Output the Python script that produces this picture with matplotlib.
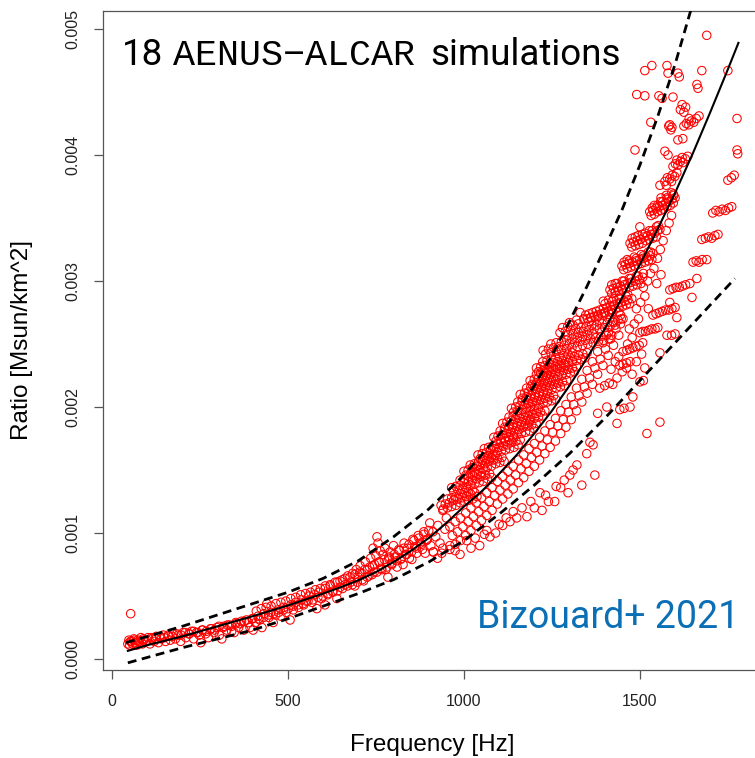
import numpy as np
import matplotlib
matplotlib.use("Agg")
import matplotlib.pyplot as plt
from matplotlib.ticker import FormatStrFormatter

# ratio values below are in units of 1e-3 Msun/km^2
# fitted relation (solid) and the two bounds (dashed)
fit_freq = [45, 100, 200, 300, 400, 500, 600, 650, 700, 750, 800, 850, 900, 950, 1000, 1050,
            1100, 1150, 1200, 1250, 1300, 1350, 1400, 1450, 1500, 1550, 1600, 1650, 1700, 1750, 1780]
fit_ratio = [0.065, 0.11, 0.18, 0.26, 0.34, 0.425, 0.52, 0.57, 0.625, 0.69, 0.77, 0.86, 0.96, 1.08,
             1.21, 1.33, 1.47, 1.62, 1.79, 1.97, 2.17, 2.39, 2.62, 2.87, 3.13, 3.41, 3.70, 4.01, 4.34,
             4.68, 4.89]
hi_freq = [40, 200, 300, 400, 500, 600, 700, 800, 900, 1000, 1100, 1150, 1200, 1250, 1300, 1350,
           1400, 1450, 1500, 1550, 1600, 1650]
hi_ratio = [0.13, 0.26, 0.35, 0.44, 0.53, 0.64, 0.78, 0.97, 1.19, 1.46, 1.78, 1.96, 2.17, 2.41,
            2.68, 2.96, 3.26, 3.57, 3.92, 4.30, 4.72, 5.20]
lo_freq = [45, 200, 300, 400, 500, 600, 700, 800, 900, 1000, 1100, 1200, 1300, 1400, 1500, 1600,
           1700, 1770]
lo_ratio = [-0.03, 0.09, 0.16, 0.23, 0.32, 0.42, 0.52, 0.63, 0.77, 0.94, 1.15, 1.38, 1.63, 1.91,
            2.21, 2.51, 2.81, 3.02]

# simulation points: (frequency [Hz], ratio)
low_pts = np.array([
    (45, .12), (48, .15), (50, .11), (53, .36), (55, .14), (58, .12), (62, .16), (66, .13),
    (70, .11), (74, .15), (78, .13), (82, .17), (86, .12), (90, .15), (96, .14), (102, .17),
    (108, .12), (114, .16), (120, .14), (126, .18), (132, .13), (140, .16), (146, .19), (152, .14),
    (160, .18), (166, .15), (174, .20), (180, .16), (188, .19), (195, .14), (202, .21), (210, .17),
    (218, .20), (226, .22), (232, .16), (240, .21), (248, .19), (252, .13), (258, .23), (266, .20),
    (274, .17), (282, .24), (290, .21), (298, .25), (305, .19), (312, .16), (318, .26), (326, .23),
    (334, .27), (340, .22), (347, .21), (352, .28), (360, .25), (368, .30), (375, .23), (382, .31),
    (392, .25), (398, .32), (401, .23), (408, .29), (415, .34), (420, .31), (426, .25), (432, .36),
    (440, .44), (446, .33), (452, .37), (458, .29), (465, .35), (472, .39), (480, .34), (488, .41),
    (495, .37), (506, .31), (508, .43), (515, .39), (522, .45), (530, .41), (538, .47), (545, .43),
    (552, .46), (560, .50), (568, .45), (575, .51), (582, .40), (588, .53), (595, .48), (605, .43),
    (606, .56), (614, .52), (620, .58), (628, .54), (639, .48), (640, .61), (648, .57), (655, .63),
    (662, .59), (670, .66), (678, .61), (684, .68), (690, .58), (694, .71), (700, .65), (705, .74),
    (710, .68), (715, .62), (720, .77), (725, .71), (730, .66), (735, .80), (740, .74), (742, .88),
    (745, .69), (750, .82), (753, .97), (756, .92), (758, .77), (762, .86), (765, .72), (770, .83),
    (775, .88), (778, .71), (784, .65), (786, .80), (790, .85), (795, .76), (800, .90), (805, .81),
    (810, .73), (815, .87), (820, .79), (827, .75), (830, .92), (835, .83), (840, .88), (845, .80),
    (852, .79), (855, .95), (860, .89), (866, .84), (870, .98), (876, .92), (882, .87), (886, 1.01),
    (890, .84), (896, .95), (903, 1.08), (906, .90), (912, 1.01), (913, .85), (920, .97), (926, 1.06),
    (932, .92), (937, .84), (940, 1.18), (946, 1.03), (950, 1.12),
    # second rows along the band
    (52, .14), (64, .15), (76, .14), (88, .16), (100, .15), (112, .17), (124, .16), (136, .18),
    (148, .17), (160, .19), (172, .18), (184, .20), (196, .19), (208, .21), (220, .20), (232, .22),
    (244, .21), (256, .23), (268, .22), (280, .24), (292, .23), (304, .26), (316, .25), (328, .27),
    (340, .26), (352, .29), (364, .28), (376, .30), (388, .29), (400, .32),
    (410, .38), (424, .40), (438, .41), (452, .42), (466, .44), (480, .45), (494, .46), (508, .48),
    (522, .49), (536, .51), (550, .52), (564, .53), (578, .55), (592, .56), (606, .58), (620, .59),
    (634, .61), (648, .62), (662, .64), (676, .65), (690, .67), (704, .69), (718, .71), (732, .73),
    (746, .75), (760, .77), (774, .79), (788, .81), (802, .83), (816, .86), (830, .88), (844, .91),
    (858, .94), (872, .96), (886, .99), (900, 1.02),
    (417, .32), (431, .33), (445, .35), (459, .36), (473, .37), (487, .39), (501, .40), (515, .42),
    (529, .43), (543, .44), (557, .46), (571, .47), (585, .49), (599, .50), (613, .51), (627, .53),
    (641, .54), (655, .56), (669, .58), (683, .59), (697, .61), (711, .63), (725, .65), (739, .67),
    (753, .69), (767, .71), (781, .73), (795, .75), (809, .78), (823, .80), (837, .83), (851, .85),
    (865, .88), (879, .91), (893, .94),
])

# upper branch: streaks of points above the fit, three rows per streak
upper_pts = np.array([
    (935, 1.22), (947, 1.23), (959, 1.24), (971, 1.26), (983, 1.27), (995, 1.28), (1007, 1.29),
    (1019, 1.31), (1031, 1.32),
    (941, 1.19), (953, 1.20), (965, 1.21), (977, 1.22), (989, 1.24), (1001, 1.25), (1013, 1.26),
    (1025, 1.27), (1037, 1.29),
    (953, 1.27), (965, 1.28), (977, 1.29), (989, 1.31), (1001, 1.32), (1013, 1.33), (1025, 1.34),
    (965, 1.36), (977, 1.37), (989, 1.38), (1001, 1.40), (1013, 1.41), (1025, 1.42), (1037, 1.43),
    (1049, 1.45), (1061, 1.46), (1073, 1.47),
    (971, 1.33), (983, 1.34), (995, 1.35), (1007, 1.36), (1019, 1.38), (1031, 1.39), (1043, 1.40),
    (1055, 1.41), (1067, 1.43), (1079, 1.44),
    (989, 1.42), (1001, 1.43), (1013, 1.45), (1025, 1.46), (1037, 1.47), (1049, 1.48), (1061, 1.50),
    (1000, 1.49), (1012, 1.50), (1024, 1.52), (1036, 1.53), (1048, 1.54), (1060, 1.55), (1072, 1.57),
    (1084, 1.58), (1096, 1.59), (1108, 1.60),
    (1006, 1.46), (1018, 1.47), (1030, 1.48), (1042, 1.50), (1054, 1.51), (1066, 1.52), (1078, 1.53),
    (1090, 1.55), (1102, 1.56), (1114, 1.57),
    (1018, 1.54), (1030, 1.55), (1042, 1.57), (1054, 1.58), (1066, 1.59), (1078, 1.60), (1090, 1.62),
    (1040, 1.62), (1052, 1.63), (1064, 1.64), (1076, 1.66), (1088, 1.67), (1100, 1.68), (1112, 1.69),
    (1124, 1.70), (1136, 1.72), (1148, 1.73), (1160, 1.74),
    (1046, 1.59), (1058, 1.60), (1070, 1.61), (1082, 1.62), (1094, 1.64), (1106, 1.65), (1118, 1.66),
    (1130, 1.67), (1142, 1.68), (1154, 1.70),
    (1058, 1.67), (1070, 1.68), (1082, 1.69), (1094, 1.71), (1106, 1.72), (1118, 1.73), (1130, 1.74),
    (1142, 1.76),
    (1085, 1.76), (1097, 1.77), (1109, 1.78), (1121, 1.79), (1133, 1.80), (1145, 1.81), (1157, 1.82),
    (1169, 1.84), (1181, 1.85), (1193, 1.86), (1205, 1.87),
    (1091, 1.73), (1103, 1.74), (1115, 1.75), (1127, 1.76), (1139, 1.77), (1151, 1.78), (1163, 1.79),
    (1175, 1.80), (1187, 1.81), (1199, 1.83),
    (1103, 1.81), (1115, 1.82), (1127, 1.83), (1139, 1.84), (1151, 1.85), (1163, 1.86), (1175, 1.87),
    (1187, 1.89),
    (1110, 1.87), (1122, 1.88), (1134, 1.89), (1146, 1.90), (1158, 1.91), (1170, 1.92), (1182, 1.93),
    (1194, 1.94), (1206, 1.95), (1218, 1.96), (1230, 1.97),
    (1116, 1.84), (1128, 1.85), (1140, 1.86), (1152, 1.87), (1164, 1.88), (1176, 1.89), (1188, 1.90),
    (1200, 1.91), (1212, 1.92), (1224, 1.93),
    (1128, 1.92), (1140, 1.93), (1152, 1.94), (1164, 1.95), (1176, 1.96), (1188, 1.97), (1200, 1.98),
    (1212, 1.99),
    (1135, 1.99), (1147, 2.00), (1159, 2.01), (1171, 2.02), (1183, 2.03), (1195, 2.04), (1207, 2.05),
    (1219, 2.06), (1231, 2.07), (1243, 2.08), (1255, 2.09),
    (1141, 1.96), (1153, 1.97), (1165, 1.98), (1177, 1.99), (1189, 2.00), (1201, 2.01), (1213, 2.02),
    (1225, 2.03), (1237, 2.04), (1249, 2.05), (1261, 2.06),
    (1153, 2.04), (1165, 2.05), (1177, 2.06), (1189, 2.07), (1201, 2.08), (1213, 2.09), (1225, 2.10),
    (1237, 2.11),
    (1160, 2.10), (1172, 2.11), (1184, 2.12), (1196, 2.13), (1208, 2.14), (1220, 2.15), (1232, 2.16),
    (1244, 2.17), (1256, 2.18), (1268, 2.19), (1280, 2.20), (1292, 2.21),
    (1166, 2.07), (1178, 2.08), (1190, 2.09), (1202, 2.10), (1214, 2.11), (1226, 2.12), (1238, 2.13),
    (1250, 2.14), (1262, 2.15), (1274, 2.16), (1286, 2.17),
    (1178, 2.15), (1190, 2.16), (1202, 2.17), (1214, 2.18), (1226, 2.19), (1238, 2.20), (1250, 2.21),
    (1262, 2.22),
    (1188, 2.21), (1200, 2.22), (1212, 2.23), (1224, 2.24), (1236, 2.25), (1248, 2.26), (1260, 2.27),
    (1272, 2.28), (1284, 2.29), (1296, 2.30), (1308, 2.31), (1320, 2.32),
    (1194, 2.18), (1206, 2.19), (1218, 2.20), (1230, 2.21), (1242, 2.22), (1254, 2.23), (1266, 2.24),
    (1278, 2.25), (1290, 2.26), (1302, 2.27), (1314, 2.28),
    (1206, 2.26), (1218, 2.27), (1230, 2.28), (1242, 2.29), (1254, 2.30), (1266, 2.31), (1278, 2.32),
    (1290, 2.33),
    (1206, 2.31), (1218, 2.32), (1230, 2.33), (1242, 2.34), (1254, 2.35), (1266, 2.36), (1278, 2.37),
    (1290, 2.38), (1302, 2.39), (1314, 2.40), (1326, 2.41), (1338, 2.42), (1350, 2.43),
    (1212, 2.28), (1224, 2.29), (1236, 2.30), (1248, 2.31), (1260, 2.32), (1272, 2.33), (1284, 2.34),
    (1296, 2.35), (1308, 2.36), (1320, 2.37), (1332, 2.38), (1344, 2.39),
    (1224, 2.36), (1236, 2.37), (1248, 2.38), (1260, 2.39), (1272, 2.40), (1284, 2.41), (1296, 2.42),
    (1308, 2.43),
    (1225, 2.45), (1240, 2.46), (1255, 2.47), (1270, 2.48), (1285, 2.49), (1300, 2.50), (1315, 2.51),
    (1330, 2.52), (1345, 2.53), (1360, 2.54), (1375, 2.55), (1390, 2.56), (1405, 2.57), (1420, 2.57),
    (1232, 2.42), (1247, 2.43), (1262, 2.44), (1277, 2.45), (1292, 2.46), (1307, 2.47), (1322, 2.48),
    (1337, 2.49), (1352, 2.50), (1367, 2.51), (1382, 2.52), (1397, 2.53), (1412, 2.54),
    (1247, 2.50), (1262, 2.51), (1277, 2.52), (1292, 2.53), (1307, 2.54), (1322, 2.55), (1337, 2.56),
    (1352, 2.57), (1367, 2.58),
    (1273, 2.59), (1288, 2.60), (1303, 2.61), (1318, 2.62), (1333, 2.63), (1348, 2.64), (1363, 2.65),
    (1378, 2.65), (1393, 2.66), (1408, 2.67), (1423, 2.68), (1438, 2.69), (1452, 2.70),
    (1295, 2.57), (1310, 2.58), (1325, 2.59), (1340, 2.60), (1355, 2.61), (1370, 2.62), (1385, 2.62),
    (1400, 2.63), (1415, 2.64), (1430, 2.65), (1445, 2.66),
    (1280, 2.63), (1295, 2.64), (1310, 2.65), (1325, 2.66), (1355, 2.68), (1385, 2.69), (1415, 2.71),
    (1445, 2.73), (1330, 2.75),
    (1300, 2.67), (1320, 2.69), (1340, 2.70), (1360, 2.71), (1380, 2.72), (1400, 2.74), (1420, 2.75),
    (1346, 2.73), (1356, 2.74), (1366, 2.75), (1376, 2.76), (1351, 2.70), (1361, 2.71), (1371, 2.72),
    (1381, 2.73),
    (1386, 2.77), (1396, 2.78), (1406, 2.79), (1416, 2.80), (1426, 2.81), (1436, 2.82), (1446, 2.83),
    (1456, 2.84), (1466, 2.85), (1477, 2.86),
    (1391, 2.74), (1401, 2.75), (1411, 2.76), (1421, 2.77), (1431, 2.78), (1441, 2.79), (1451, 2.80),
    (1461, 2.81), (1471, 2.82),
    (1401, 2.82), (1421, 2.84), (1441, 2.86), (1461, 2.88),
    (1396, 2.84), (1411, 2.85), (1426, 2.86), (1446, 2.88), (1466, 2.89),
    (1415, 2.93), (1425, 2.94), (1435, 2.95), (1445, 2.96), (1455, 2.97), (1465, 2.98), (1475, 2.99),
    (1487, 3.00), (1498, 3.01), (1508, 3.03),
    (1420, 2.90), (1430, 2.91), (1440, 2.92), (1450, 2.93), (1460, 2.94), (1470, 2.95), (1480, 2.96),
    (1492, 2.97), (1503, 2.98),
    (1430, 2.98), (1450, 3.00), (1470, 3.02), (1490, 3.04),
    (1420, 2.97), (1435, 2.98), (1455, 3.00), (1475, 3.02), (1495, 3.04), (1510, 3.06),
    (1449, 3.12), (1459, 3.13), (1469, 3.14), (1479, 3.15), (1489, 3.16), (1499, 3.17), (1509, 3.18),
    (1519, 3.19), (1529, 3.20), (1537, 3.22),
    (1454, 3.09), (1464, 3.10), (1474, 3.11), (1484, 3.12), (1494, 3.13), (1504, 3.14), (1514, 3.15),
    (1524, 3.16), (1534, 3.17),
    (1464, 3.17), (1484, 3.19), (1504, 3.21), (1524, 3.23),
    (1455, 3.15), (1470, 3.16), (1490, 3.18), (1510, 3.20), (1530, 3.23),
    (1472, 3.30), (1482, 3.31), (1492, 3.32), (1502, 3.33), (1512, 3.35), (1522, 3.36), (1532, 3.37),
    (1542, 3.38), (1550, 3.40), (1557, 3.41),
    (1477, 3.27), (1487, 3.28), (1497, 3.29), (1507, 3.30), (1517, 3.32), (1527, 3.33), (1537, 3.34),
    (1547, 3.35),
    (1487, 3.35), (1507, 3.37), (1527, 3.40), (1547, 3.43),
    (1478, 3.34), (1495, 3.36), (1515, 3.38), (1535, 3.40), (1552, 3.44),
    (1528, 3.55), (1537, 3.56), (1546, 3.58), (1555, 3.59), (1564, 3.60), (1573, 3.62), (1582, 3.63),
    (1591, 3.65), (1600, 3.66),
    (1532, 3.52), (1541, 3.53), (1550, 3.55), (1559, 3.56), (1568, 3.57), (1577, 3.59), (1586, 3.60),
    (1595, 3.62),
    (1541, 3.60), (1559, 3.63), (1577, 3.66), (1595, 3.69),
    (1535, 3.58), (1550, 3.60), (1565, 3.63), (1580, 3.65), (1596, 3.68),
    (1571, 3.79), (1578, 3.82), (1585, 3.81), (1592, 3.84), (1599, 3.83), (1605, 3.86), (1575, 3.76),
    (1590, 3.79),
    (1594, 3.91), (1601, 3.93), (1608, 3.92), (1615, 3.95), (1622, 3.94), (1629, 3.97), (1636, 3.99),
    (1605, 3.96), (1620, 3.98),
    (1625, 4.23), (1632, 4.25), (1639, 4.24), (1646, 4.27), (1653, 4.26), (1660, 4.29), (1668, 4.31),
    (1640, 4.29),
])

# points just below the fit, three rows plus stragglers
mid_pts = np.array([
    (960, 1.05), (975, 1.09), (990, 1.12), (1005, 1.16), (1020, 1.20), (1035, 1.24), (1050, 1.28),
    (1065, 1.32), (1080, 1.36), (1095, 1.41), (1110, 1.45), (1125, 1.49), (1140, 1.53), (1155, 1.58),
    (1170, 1.62), (1185, 1.67), (1200, 1.71), (1215, 1.76), (1230, 1.81), (1245, 1.86), (1260, 1.91),
    (1275, 1.97), (1290, 2.02), (1305, 2.08), (1320, 2.15), (1335, 2.22), (1350, 2.29), (1365, 2.36),
    (1380, 2.44), (1395, 2.51), (1410, 2.59), (1425, 2.67), (1440, 2.75),
    (967, .98), (982, 1.01), (997, 1.05), (1012, 1.09), (1027, 1.13), (1042, 1.17), (1057, 1.21),
    (1072, 1.25), (1087, 1.30), (1102, 1.34), (1117, 1.38), (1132, 1.42), (1147, 1.46), (1162, 1.51),
    (1177, 1.55), (1192, 1.60), (1207, 1.64), (1222, 1.69), (1237, 1.74), (1252, 1.80), (1267, 1.85),
    (1282, 1.90), (1297, 1.96), (1312, 2.02), (1327, 2.09), (1342, 2.16), (1357, 2.23), (1372, 2.31),
    (1387, 2.38), (1402, 2.46), (1417, 2.54), (1432, 2.62), (1447, 2.70),
    (960, .87), (975, .91), (990, .94), (1005, .98), (1020, 1.02), (1035, 1.06), (1050, 1.10),
    (1065, 1.14), (1080, 1.18), (1095, 1.23), (1110, 1.27), (1125, 1.31), (1140, 1.35), (1155, 1.40),
    (1170, 1.44), (1185, 1.49), (1200, 1.53), (1215, 1.58), (1230, 1.63), (1245, 1.68), (1260, 1.73),
    (1275, 1.79), (1290, 1.84), (1305, 1.90), (1320, 1.97), (1335, 2.04), (1350, 2.11), (1365, 2.18),
    (1380, 2.26), (1395, 2.33), (1410, 2.41), (1425, 2.49), (1440, 2.57),
    (1386, 2.15), (1400, 2.17), (1413, 2.19), (1423, 2.18), (1406, 2.00), (1380, 1.95),
    (1440, 2.40), (1452, 2.44), (1465, 2.50), (1478, 2.55), (1450, 2.28), (1462, 2.31), (1470, 2.62),
    (1484, 2.66), (1496, 2.70), (1490, 2.78), (1502, 2.83), (1514, 2.88), (1510, 2.95), (1522, 3.00),
    (1530, 3.06), (1524, 2.78), (1540, 3.10), (1550, 3.18), (1558, 3.25), (1548, 2.98), (1566, 3.32),
    (1575, 3.40), (1583, 3.46), (1590, 3.52), (1560, 3.05), (1478, 2.26), (1490, 2.36), (1505, 2.42),
    (1418, 2.30), (1430, 2.36), (1500, 3.43),
])

# sparse points near the lower bound
lower_pts = np.array([
    (913, .85), (925, .80), (940, .88), (960, .90), (975, .86), (989, .83), (1008, .94), (1020, .88),
    (1032, .96), (1045, .90), (1058, .99), (1065, 1.02), (1074, .97), (1090, 1.00), (1100, 1.07),
    (1110, 1.06), (1120, 1.12), (1131, 1.09), (1140, 1.17), (1150, 1.12), (1165, 1.20), (1179, 1.13),
    (1190, 1.25), (1200, 1.20), (1216, 1.32), (1222, 1.18), (1232, 1.30), (1240, 1.25), (1258, 1.25),
    (1262, 1.37), (1275, 1.36), (1285, 1.42), (1296, 1.32), (1301, 1.46), (1310, 1.50), (1321, 1.54),
    (1335, 1.38), (1349, 1.63), (1358, 1.72), (1367, 1.70), (1372, 1.46), (1435, 1.87), (1443, 1.98),
    (1455, 1.99), (1472, 2.00), (1480, 2.08), (1500, 2.20), (1510, 2.21), (1520, 1.79), (1557, 1.88),
])

# high-frequency tracks to the right of the fit
right_pts = np.array([
    (1707, 3.54), (1716, 3.56), (1725, 3.55), (1734, 3.57), (1743, 3.56), (1752, 3.58), (1761, 3.59),
    (1676, 3.33), (1686, 3.34), (1695, 3.35), (1704, 3.34), (1713, 3.36), (1722, 3.37),
    (1651, 3.15), (1660, 3.16), (1668, 3.15), (1677, 3.17), (1690, 3.17),
    (1662, 3.02), (1648, 2.87), (1585, 2.83),
    (1585, 2.93), (1594, 2.94), (1603, 2.95), (1612, 2.95), (1621, 2.96), (1630, 2.97), (1642, 2.98),
    (1537, 2.73), (1546, 2.74), (1555, 2.75), (1564, 2.76), (1573, 2.77), (1582, 2.77), (1591, 2.78),
    (1600, 2.79), (1605, 2.71),
    (1500, 2.59), (1508, 2.60), (1516, 2.60), (1525, 2.61), (1534, 2.62), (1543, 2.62), (1551, 2.63),
    (1577, 2.57), (1590, 2.57), (1600, 2.58),
    (1463, 2.45), (1471, 2.46), (1480, 2.47), (1489, 2.48), (1498, 2.49), (1508, 2.51), (1557, 2.43),
    (1443, 2.33), (1452, 2.34), (1462, 2.35), (1472, 2.36), (1514, 2.31), (1435, 2.23),
])

# scattered points at the top of the range
top_pts = np.array([
    (1690, 4.95), (1534, 4.71), (1514, 4.67), (1577, 4.71), (1580, 4.65), (1608, 4.65), (1612, 4.62),
    (1676, 4.67), (1750, 4.67), (1491, 4.48), (1514, 4.47), (1554, 4.47), (1563, 4.45), (1594, 4.46),
    (1662, 4.56), (1665, 4.53), (1615, 4.36), (1620, 4.40), (1625, 4.34), (1630, 4.38), (1776, 4.29),
    (1531, 4.26), (1582, 4.23), (1588, 4.20), (1585, 4.24), (1591, 4.22), (1608, 4.12), (1622, 4.13),
    (1486, 4.04), (1571, 4.03), (1580, 4.00), (1776, 4.04), (1778, 4.01), (1750, 3.80), (1760, 3.82),
    (1768, 3.84), (1557, 3.76), (1560, 3.66), (1575, 3.68), (1590, 3.70),
])

W, H = 755, 758
fig = plt.figure(figsize=(W / 100, H / 100), dpi=100)
ax = fig.add_axes([103 / W, (H - 669.5) / H, 659 / W, 658.5 / H])

pts = np.vstack([low_pts, upper_pts, mid_pts, lower_pts, right_pts, top_pts])
ax.scatter(pts[:, 0], pts[:, 1] * 1e-3, s=37, facecolors="none",
           edgecolors="#ff0000", linewidths=0.75, zorder=2)

ax.plot(fit_freq, np.array(fit_ratio) * 1e-3, color="black", lw=1.5, zorder=3)
ax.plot(hi_freq, np.array(hi_ratio) * 1e-3, color="black", lw=2.0,
        linestyle=(0, (3.2, 2.0)), zorder=3)
ax.plot(lo_freq, np.array(lo_ratio) * 1e-3, color="black", lw=2.0,
        linestyle=(0, (3.2, 2.0)), zorder=3)

ax.set_xlim(-25.6, 1847)
ax.set_ylim(-0.083e-3, 5.143e-3)
ax.set_xticks([0, 500, 1000, 1500])
ax.set_yticks([0, 0.001, 0.002, 0.003, 0.004, 0.005])
ax.yaxis.set_major_formatter(FormatStrFormatter("%.3f"))

for s in ax.spines.values():
    s.set_color("#555555")
    s.set_linewidth(0.9)
ax.tick_params(direction="out", length=6.5, width=0.9, color="#555555",
               labelsize=11.5, labelcolor="#222222", pad=11)
ax.tick_params(axis="y", labelrotation=90, pad=10)
for lab in ax.get_xticklabels() + ax.get_yticklabels():
    lab.set_fontfamily("Liberation Sans")
for lab in ax.get_yticklabels():
    lab.set_va("center")

ax.set_xlabel("Frequency [Hz]", fontsize=17.5, fontfamily="Liberation Sans")
ax.set_ylabel("Ratio [Msun/km^2]", fontsize=17.5, fontfamily="Liberation Sans")
ax.xaxis.set_label_coords(0.5, (669.5 - 745) / 658.5)
ax.xaxis.label.set_va("center")
ax.yaxis.set_label_coords((22 - 103) / 659, 0.5)
ax.yaxis.label.set_va("center")

# heading made of three pieces in two typefaces
def px_text(x, y, s, **kw):
    fig.text(x / W, 1 - y / H, s, va="baseline", ha="left", **kw)

px_text(122, 65, "18", fontsize=26.5, family="Roboto")
px_text(173, 65, "AENUS\u2212ALCAR", fontsize=26.5, family=["Liberation Mono", "DejaVu Sans Mono"])
px_text(430, 65, "simulations", fontsize=26.5, family="Roboto")
px_text(477, 628, "Bizouard+ 2021", fontsize=27, family="Roboto", color="#0a6fb5")

fig.savefig("out.png", dpi=100)
